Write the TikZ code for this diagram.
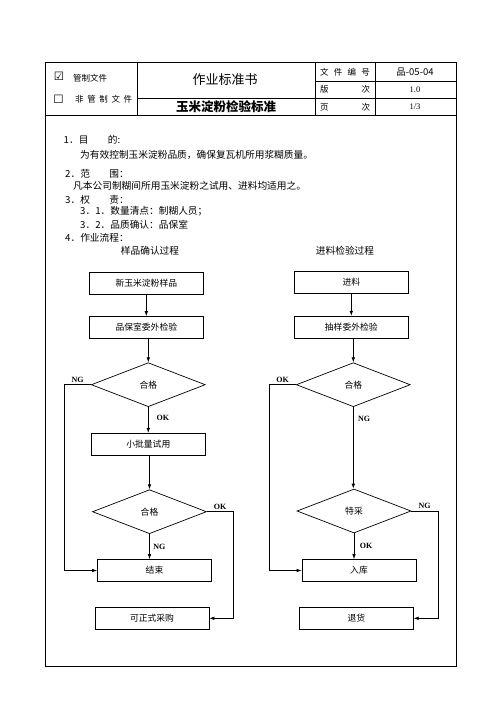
\documentclass[tikz,border=0pt]{standalone}
\usepackage{fontspec}
\setmainfont{Liberation Serif}
\newfontfamily\cjk{Noto Sans CJK SC}
\newfontfamily\symfont{DejaVu Sans}
\usetikzlibrary{shapes.geometric, arrows.meta, positioning, calc}

\begin{document}
\begin{tikzpicture}[x=1pt, y=-1pt,
        box/.style={rectangle, draw=black, line width=0.7pt, minimum width=114pt, minimum height=22pt, inner sep=0pt, font=\cjk\fontsize{8.8}{10}\selectfont},
        cond/.style={diamond, draw=black, line width=0.7pt, minimum width=114pt, minimum height=44pt, inner sep=0pt, font=\cjk\fontsize{8.8}{10}\selectfont},
        arrow/.style={-{Latex[length=5pt,width=3.6pt]}, line width=0.7pt, draw=black},
        tag/.style={font=\bfseries\fontsize{8}{9}\selectfont, inner sep=1pt},
        body/.style={anchor=west, inner sep=0pt, font=\cjk\fontsize{9.7}{11}\selectfont},
        hd/.style={inner sep=0pt, font=\cjk\fontsize{8.5}{10}\selectfont}
    ]
        \useasboundingbox (0,0) rectangle (496,702);

        % Marco y cabecera
        \draw [line width=1.2pt] (45.7,62.7) rectangle (456.5,666.7);
        \draw [line width=0.8pt] (45.7,115.7) -- (456.5,115.7);
        \draw [line width=0.8pt] (137.3,62.7) -- (137.3,115.7);
        \draw [line width=0.8pt] (315.7,62.7) -- (315.7,115.7);
        \draw [line width=0.8pt] (375,62.7) -- (375,115.7);
        \draw [line width=0.8pt] (137.3,98.3) -- (456.5,98.3);
        \draw [line width=0.8pt] (315.7,81) -- (456.5,81);

        \node [hd, font=\symfont\fontsize{11.5}{12}\selectfont] (chk1) at (59,76.5) {☑};
        \node [hd, anchor=west] (ctl) at (73,78) {管制文件};
        \node [hd, font=\symfont\fontsize{11.5}{12}\selectfont] (chk2) at (58.5,99) {☐};
        \node [hd, anchor=west] (nctl) at (75,99) {\makebox[57pt][s]{非\hfill 管\hfill 制\hfill 文\hfill 件}};
        \node [hd, font=\cjk\fontsize{13}{15}\selectfont] (title) at (225,80) {作业标准书};
        \node [hd, font=\cjk\bfseries\fontsize{12.5}{14}\selectfont] (subj) at (226,107) {玉米淀粉检验标准};
        \node [hd] (fno) at (345,71.8) {\makebox[50pt][s]{文\hfill 件\hfill 编\hfill 号}};
        \node [hd, font=\cjk\fontsize{9.5}{11}\selectfont] (fval) at (415,71.8) {品-05-04};
        \node [hd] (ver) at (345,89.7) {\makebox[50pt][s]{版\hfill 次}};
        \node [hd, font=\fontsize{8.5}{10}\selectfont] (verv) at (415,89.7) {1.0};
        \node [hd] (pg) at (345,107) {\makebox[50pt][s]{页\hfill 次}};
        \node [hd, font=\fontsize{8.5}{10}\selectfont] (pgv) at (415,107) {1/3};

        % Texto
        \node [body] (t1) at (63.5,139.5) {1．目　　的:};
        \node [body] (t2) at (80,154.5) {为有效控制玉米淀粉品质，确保复瓦机所用浆糊质量。};
        \node [body] (t3) at (65,173.7) {2．范　　围：};
        \node [body] (t4) at (73,186) {凡本公司制糊间所用玉米淀粉之试用、进料均适用之。};
        \node [body] (t5) at (65,200) {3．权　　责：};
        \node [body] (t6) at (80,211) {3．1．数量清点：制糊人员；};
        \node [body] (t7) at (80,224.7) {3．2．品质确认：品保室};
        \node [body] (t8) at (65,238) {4．作业流程：};
        \node [body, anchor=center] (ttl1) at (150,251) {样品确认过程};
        \node [body, anchor=center] (ttl2) at (345,251) {进料检验过程};

        % Proceso de muestra (izquierda)
        \node [box] (s1) at (146.3,283.2) {新玉米淀粉样品};
        \node [box] (s2) at (146.3,327.5) {品保室委外检验};
        \node [cond] (c1) at (148.3,384.7) {合格};
        \node [box] (s3) at (148.3,444.2) {小批量试用};
        \node [cond] (c2) at (149.5,511.7) {合格};
        \node [box] (fin) at (154.5,570.5) {结束};
        \node [box] (buy) at (152,618.3) {可正式采购};

        \draw [arrow] (s1.south) -- (s1.south |- s2.north);
        \draw [arrow] (c1.north |- s2.south) -- (c1.north);
        \draw [arrow] (c1.south) -- node[tag, pos=0.42, right=7pt] (ok1) {OK} (s3.north);
        \draw [arrow] (s3.south -| c2.north) -- (c2.north);
        \draw [arrow] (c2.south) -- node[tag, pos=0.5, right=2.5pt] (ng2) {NG} (c2.south |- fin.north);
        \draw [arrow] (c1.west) -- node[tag, midway, above=1pt] (ng1) {NG} ++(-26.7,0) |- (fin.west);
        \draw [arrow] (c2.east) -- node[tag, midway, above=1pt] (ok2) {OK} ++(26.7,0) |- (buy.east);

        % Proceso de entrada (derecha)
        \node [box] (r1) at (351.3,282.5) {进料};
        \node [box] (r2) at (351.3,327.2) {抽样委外检验};
        \node [cond] (rc1) at (353.3,384.7) {合格};
        \node [cond] (rc2) at (354,511) {特采};
        \node [box] (stock) at (359,570.5) {入库};
        \node [box] (ret) at (356.3,618.3) {退货};

        \draw [arrow] (r1.south) -- (r1.south |- r2.north);
        \draw [arrow] (rc1.north |- r2.south) -- (rc1.north);
        \draw [arrow] (rc1.south) -- node[tag, pos=0.15, right=3.5pt] (ng3) {NG} (rc1.south |- rc2.north);
        \draw [arrow] (rc2.south) -- node[tag, pos=0.5, right=4.5pt] (ok4) {OK} (rc2.south |- stock.north);
        \draw [arrow] (rc1.west) -- node[tag, midway, above=1pt] (ok3) {OK} ++(-26.7,0) |- (stock.west);
        \draw [arrow] (rc2.east) -- node[tag, midway, above=1pt] (ng4) {NG} ++(26.7,0) |- (ret.east);
    \end{tikzpicture}
\end{document}
